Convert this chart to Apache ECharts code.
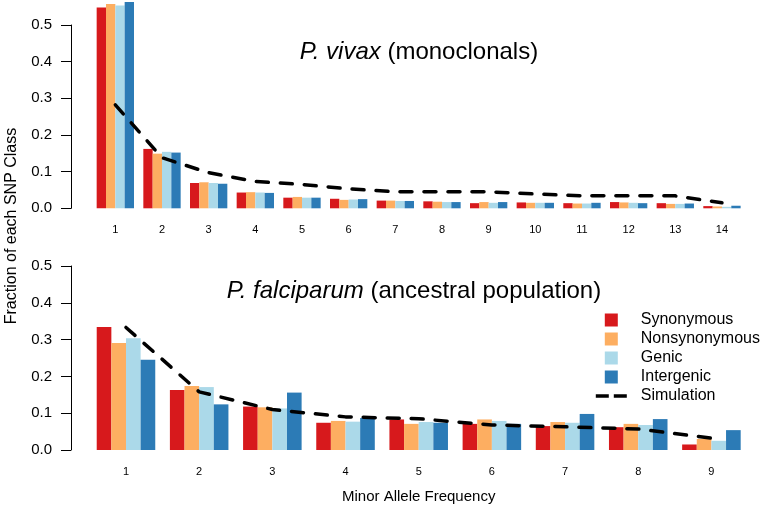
<!DOCTYPE html>
<html>
<head>
<meta charset="utf-8">
<script src="https://cdn.jsdelivr.net/npm/echarts@6/dist/echarts.min.js"></script>
<style>html,body{margin:0;padding:0;background:#fff;}#c{width:762px;height:507px;}</style>
</head>
<body>
<div id="c"></div>
<script>
// ---- Data ----
const vivaxCategories = ['1','2','3','4','5','6','7','8','9','10','11','12','13','14'];
const vivaxSynonymous    = [0.548,0.162,0.069,0.043,0.029,0.026,0.021,0.019,0.014,0.016,0.014,0.017,0.014,0.006];
const vivaxNonsynonymous = [0.557,0.149,0.071,0.044,0.031,0.023,0.021,0.018,0.017,0.015,0.013,0.016,0.012,0.005];
const vivaxGenic         = [0.553,0.154,0.069,0.043,0.029,0.024,0.020,0.017,0.015,0.015,0.013,0.015,0.012,0.004];
const vivaxIntergenic    = [0.563,0.152,0.067,0.042,0.029,0.025,0.020,0.017,0.017,0.015,0.015,0.014,0.013,0.007];
const vivaxSimulation    = [0.282,0.138,0.097,0.073,0.065,0.053,0.045,0.045,0.045,0.039,0.034,0.034,0.034,0.015];

const falcCategories = ['1','2','3','4','5','6','7','8','9'];
const falcSynonymous    = [0.334,0.163,0.118,0.074,0.083,0.071,0.065,0.062,0.015];
const falcNonsynonymous = [0.291,0.174,0.116,0.079,0.071,0.083,0.076,0.071,0.030];
const falcGenic         = [0.304,0.171,0.113,0.077,0.076,0.079,0.074,0.068,0.025];
const falcIntergenic    = [0.245,0.124,0.156,0.087,0.074,0.071,0.098,0.084,0.054];
const falcSimulation    = [0.333,0.158,0.110,0.090,0.085,0.068,0.063,0.057,0.032];

const yTicks = [0, 0.1, 0.2, 0.3, 0.4, 0.5];
const seriesNames = ['Synonymous','Nonsynonymous','Genic','Intergenic'];
const simName = 'Simulation';

// ---- Styles ----
const colors = ['#D7191C','#FDAE61','#ABD9E9','#2C7BB6'];
const FONT = 'Liberation Sans, Arial, Helvetica, sans-serif';
const square = 'path://M0,0L10,0L10,10L0,10Z';
const dashIcon = 'path://M0,0L13,0L13,3.5L0,3.5Z M18,0L31,0L31,3.5L18,3.5Z';

function yAxisCfg(gridIndex, offset) {
  return {
    type: 'value', gridIndex: gridIndex, min: 0, max: 0.5, interval: 0.1,
    offset: offset,
    splitLine: { show: false },
    axisLine: { show: true, lineStyle: { color: '#000', width: 1 } },
    axisTick: { show: true, length: 10, lineStyle: { color: '#000', width: 1 }, customValues: yTicks },
    axisLabel: { fontSize: 15, color: '#000', fontFamily: FONT, margin: 19, customValues: yTicks,
      formatter: v => v.toFixed(1) }
  };
}
function xAxisCfg(gridIndex, cats) {
  return {
    type: 'category', gridIndex: gridIndex, data: cats,
    axisLine: { show: false }, axisTick: { show: false },
    axisLabel: { fontSize: 11, color: '#000', fontFamily: FONT, margin: 16 }
  };
}

const barSets = [
  [vivaxSynonymous, vivaxNonsynonymous, vivaxGenic, vivaxIntergenic],
  [falcSynonymous, falcNonsynonymous, falcGenic, falcIntergenic]
];
const sims = [vivaxSimulation, falcSimulation];

const series = [];
barSets.forEach((set, gi) => {
  set.forEach((vals, k) => {
    series.push({
      name: seriesNames[k], type: 'bar', xAxisIndex: gi, yAxisIndex: gi,
      data: vals, barGap: '0%', barCategoryGap: '20%', clip: false,
      itemStyle: { color: colors[k] }, silent: true
    });
  });
  series.push({
    name: simName, type: 'line', xAxisIndex: gi, yAxisIndex: gi, data: sims[gi],
    symbol: 'none', showSymbol: false, smooth: false, clip: false, z: 5,
    lineStyle: { color: '#000', width: 3.5, type: [12, 12], cap: 'round' },
    itemStyle: { color: '#000' }, silent: true
  });
});

const option = {
  backgroundColor: '#fff',
  animation: false,
  textStyle: { fontFamily: FONT },
  grid: [
    { left: 92.0, right: 16.7, top: 25, bottom: 298.7, containLabel: false },
    { left: 89.4, right: 14, top: 266, bottom: 57, containLabel: false }
  ],
  xAxis: [ xAxisCfg(0, vivaxCategories), xAxisCfg(1, falcCategories) ],
  yAxis: [ yAxisCfg(0, 21.0), yAxisCfg(1, 18.4) ],
  legend: {
    orient: 'vertical', left: 590.8, top: 305.5, padding: 5,
    itemWidth: 31, itemHeight: 13, itemGap: 0,
    selectedMode: false,
    textStyle: { fontSize: 16, color: '#000', fontFamily: FONT, lineHeight: 19, padding: [0,0,0,9] },
    data: [
      { name: seriesNames[0], icon: square },
      { name: seriesNames[1], icon: square },
      { name: seriesNames[2], icon: square },
      { name: seriesNames[3], icon: square },
      { name: simName, icon: dashIcon }
    ]
  },
  graphic: [
    { type: 'text', x: 419, y: 52, silent: true,
      style: { text: '{i|P. vivax}{n| (monoclonals)}', align: 'center', verticalAlign: 'middle', fill: '#000',
        rich: { i: { fontStyle: 'italic', fontSize: 24, fontFamily: FONT, fill: '#000' },
                n: { fontSize: 24, fontFamily: FONT, fill: '#000' } } } },
    { type: 'text', x: 414, y: 291, silent: true,
      style: { text: '{i|P. falciparum}{n| (ancestral population)}', align: 'center', verticalAlign: 'middle', fill: '#000',
        rich: { i: { fontStyle: 'italic', fontSize: 24, fontFamily: FONT, fill: '#000' },
                n: { fontSize: 24, fontFamily: FONT, fill: '#000' } } } },
    { type: 'text', x: 418.7, y: 496.5, silent: true,
      style: { text: 'Minor Allele Frequency', align: 'center', verticalAlign: 'middle', fill: '#000',
        fontSize: 15, fontFamily: FONT } },
    { type: 'text', x: 11.5, y: 226, rotation: Math.PI / 2, silent: true,
      style: { text: 'Fraction of each SNP Class', align: 'center', verticalAlign: 'middle', fill: '#000',
        fontSize: 16, fontFamily: FONT } }
  ],
  series: series
};

const chart = echarts.init(document.getElementById('c'), null, { renderer: 'canvas' });
chart.setOption(option);
</script>
</body>
</html>
